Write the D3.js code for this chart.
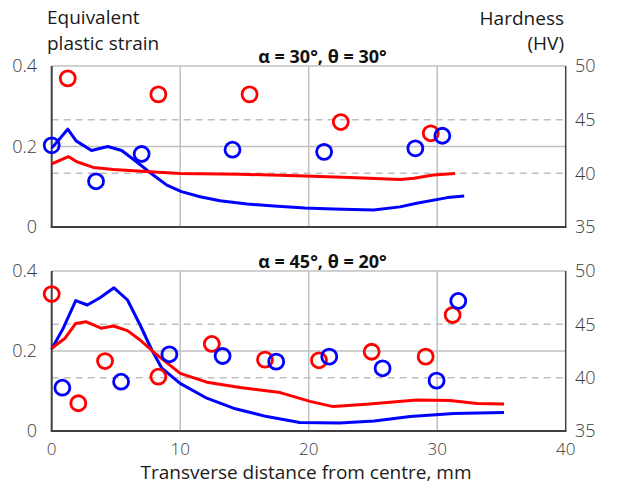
<!DOCTYPE html>
<html>
<head>
<meta charset="utf-8">
<script src="https://cdn.jsdelivr.net/npm/d3@7"></script>
<style>
  body { margin: 0; background: #fff; }
  text { font-family: "Open Sans", "DejaVu Sans", sans-serif; }
</style>
</head>
<body>
<svg class="chart" width="621" height="486"></svg>
<script>
var red_color = '#ff0000';
var blue_color = '#0000ff';
var grid_color = '#c0c0c0';
var axis_color = '#404040';
var label_color = '#3a3a3a';

// axes
var xTicks = [0, 10, 20, 30, 40];
var strainTicks = [0, 0.2, 0.4];
var strainLabels = ["0", "0.2", "0.4"];
var hvTicks = [35, 40, 45, 50];

// top panel: alpha = 30, theta = 30
var topBlueLineX = [0, 1.25, 1.9, 3.1, 4.36, 5.45, 6.6, 7.9, 8.96, 10.1, 11.55, 13.1, 15.2, 17.3, 19.7, 21.9, 25.05, 27.1, 28.4, 30.8, 32.1];
var topBlueLineY = [0.196, 0.243, 0.214, 0.19, 0.2, 0.19, 0.162, 0.129, 0.104, 0.088, 0.075, 0.065, 0.057, 0.052, 0.047, 0.045, 0.042, 0.05, 0.059, 0.073, 0.077];
var topRedLineX = [0, 1.3, 1.95, 3.24, 4.8, 7.66, 10, 14.7, 19.7, 23.2, 27.1, 28.2, 29.7, 31.4];
var topRedLineY = [0.157, 0.175, 0.162, 0.148, 0.143, 0.137, 0.133, 0.131, 0.127, 0.123, 0.118, 0.121, 0.129, 0.133];
var topRedHvX = [1.25, 8.3, 15.4, 22.5, 29.5];
var topRedHv = [48.85, 47.36, 47.36, 44.78, 43.73];
var topBlueHvX = [0, 3.45, 7.0, 14.07, 21.2, 28.3, 30.4];
var topBlueHv = [42.61, 39.26, 41.8, 42.2, 42.0, 42.33, 43.5];

// bottom panel: alpha = 45, theta = 20
var botBlueLineX = [0, 0.9, 1.87, 2.77, 3.76, 4.85, 5.9, 6.88, 7.79, 8.57, 9.99, 12.07, 14.14, 16.74, 19.3, 22.4, 25.1, 27.9, 31.3, 35.2];
var botBlueLineY = [0.205, 0.257, 0.326, 0.315, 0.333, 0.358, 0.3275, 0.265, 0.2025, 0.157, 0.119, 0.082, 0.057, 0.036, 0.021, 0.02, 0.025, 0.036, 0.044, 0.046];
var botRedLineX = [0, 1.04, 1.87, 2.7, 3.84, 4.8, 5.89, 6.88, 8.05, 10, 12.07, 14.67, 17.78, 20.1, 21.9, 24.5, 28.4, 31.0, 33.1, 35.2];
var botRedLineY = [0.207, 0.232, 0.269, 0.273, 0.257, 0.2625, 0.251, 0.2275, 0.194, 0.144, 0.122, 0.109, 0.096, 0.074, 0.061, 0.067, 0.0775, 0.076, 0.069, 0.0675];
var botRedHvX = [0, 2.07, 4.15, 8.3, 12.46, 16.6, 20.8, 24.9, 29.1, 31.2];
var botRedHv = [47.84, 37.6, 41.56, 40.09, 43.16, 41.69, 41.63, 42.43, 41.97, 45.875];
var botBlueHvX = [0.83, 5.4, 9.16, 13.3, 17.47, 21.6, 25.75, 29.95, 31.64];
var botBlueHv = [39.06, 39.62, 42.19, 42.03, 41.5, 41.97, 40.88, 39.72, 47.19];

var svg = d3.select(".chart");

var x = d3.scaleLinear().domain([0, 40]).range([51.7, 565.7]);

function zip(xs, ys) {
    return xs.map(function(v, k) { return {x: v, y: ys[k]}; });
}

function drawPanel(top, bottom, title, blueLine, redLine, redHv, blueHv, showX) {
    var y = d3.scaleLinear().domain([0, 0.4]).range([bottom, top]);
    var yh = d3.scaleLinear().domain([35, 50]).range([bottom, top]);
    var g = svg.append("g");

    // grid
    g.selectAll(".vgrid").data(xTicks.slice(1, 4)).enter().append("line")
        .attr("x1", function(d) { return x(d); }).attr("x2", function(d) { return x(d); })
        .attr("y1", top).attr("y2", bottom)
        .attr("stroke", grid_color).attr("stroke-width", 1.5);
    g.selectAll(".hgrid").data(strainTicks.slice(1)).enter().append("line")
        .attr("x1", x(0)).attr("x2", x(40))
        .attr("y1", function(d) { return y(d); }).attr("y2", function(d) { return y(d); })
        .attr("stroke", grid_color).attr("stroke-width", 1.5);
    g.selectAll(".dgrid").data([40, 45]).enter().append("line")
        .attr("x1", x(0)).attr("x2", x(40))
        .attr("y1", function(d) { return yh(d); }).attr("y2", function(d) { return yh(d); })
        .attr("stroke", grid_color).attr("stroke-width", 1.5)
        .attr("stroke-dasharray", "7,5");

    // axis lines
    g.append("line").attr("x1", x(40)).attr("x2", x(40)).attr("y1", top).attr("y2", bottom)
        .attr("stroke", axis_color).attr("stroke-width", 1.5);
    g.append("line").attr("x1", x(0) - 1).attr("x2", x(40) + 0.75).attr("y1", bottom).attr("y2", bottom)
        .attr("stroke", axis_color).attr("stroke-width", 2);
    g.append("line").attr("x1", x(0)).attr("x2", x(0)).attr("y1", top).attr("y2", bottom)
        .attr("stroke", axis_color).attr("stroke-width", 2);

    // tick labels
    g.selectAll(".ly").data(strainTicks).enter().append("text")
        .attr("x", 37).attr("y", function(d) { return y(d); })
        .attr("dy", "0.35em").attr("text-anchor", "end")
        .attr("font-size", 18).attr("font-weight", 300).attr("fill", label_color)
        .text(function(d, k) { return strainLabels[k]; });
    g.selectAll(".ry").data(hvTicks).enter().append("text")
        .attr("x", 575).attr("y", function(d) { return yh(d); })
        .attr("dy", "0.35em")
        .attr("font-size", 18).attr("font-weight", 300).attr("fill", label_color)
        .text(function(d) { return d; });
    if (showX) {
        g.selectAll(".lx").data(xTicks).enter().append("text")
            .attr("x", function(d) { return x(d); }).attr("y", 455)
            .attr("text-anchor", "middle")
            .attr("font-size", 17).attr("font-weight", 300).attr("fill", label_color)
            .text(function(d) { return d; });
    }

    // panel title
    g.append("text").attr("x", 322.5).attr("y", top - 3)
        .attr("text-anchor", "middle").attr("font-size", 18).attr("font-weight", "bold")
        .attr("fill", "#111").text(title);

    var line = d3.line()
        .x(function(d) { return x(d.x); })
        .y(function(d) { return y(d.y); });

    g.append("path").attr("d", line(blueLine))
        .attr("fill", "none").attr("stroke", blue_color).attr("stroke-width", 3)
        .attr("stroke-linejoin", "round");
    g.append("path").attr("d", line(redLine))
        .attr("fill", "none").attr("stroke", red_color).attr("stroke-width", 3)
        .attr("stroke-linejoin", "round");

    g.selectAll(".rc").data(redHv).enter().append("circle")
        .attr("cx", function(d) { return x(d.x); }).attr("cy", function(d) { return yh(d.y); })
        .attr("r", 7.5).attr("fill", "none").attr("stroke", red_color).attr("stroke-width", 2.8);
    g.selectAll(".bc").data(blueHv).enter().append("circle")
        .attr("cx", function(d) { return x(d.x); }).attr("cy", function(d) { return yh(d.y); })
        .attr("r", 7.5).attr("fill", "none").attr("stroke", blue_color).attr("stroke-width", 2.8);
}

drawPanel(66, 227, "\u03b1 = 30\u00b0, \u03b8 = 30\u00b0",
    zip(topBlueLineX, topBlueLineY), zip(topRedLineX, topRedLineY),
    zip(topRedHvX, topRedHv), zip(topBlueHvX, topBlueHv), false);
drawPanel(271, 431, "\u03b1 = 45\u00b0, \u03b8 = 20\u00b0",
    zip(botBlueLineX, botBlueLineY), zip(botRedLineX, botRedLineY),
    zip(botRedHvX, botRedHv), zip(botBlueHvX, botBlueHv), true);

// axis titles
var heads = svg.append("g").attr("font-size", 19).attr("fill", "#1a1a1a");
heads.append("text").attr("x", 47).attr("y", 24).text("Equivalent");
heads.append("text").attr("x", 47).attr("y", 50).text("plastic strain");
heads.append("text").attr("x", 564).attr("y", 25).attr("text-anchor", "end").text("Hardness");
heads.append("text").attr("x", 564).attr("y", 50).attr("text-anchor", "end").text("(HV)");
heads.append("text").attr("x", 306).attr("y", 479).attr("text-anchor", "middle")
    .text("Transverse distance from centre, mm");
</script>
</body>
</html>
